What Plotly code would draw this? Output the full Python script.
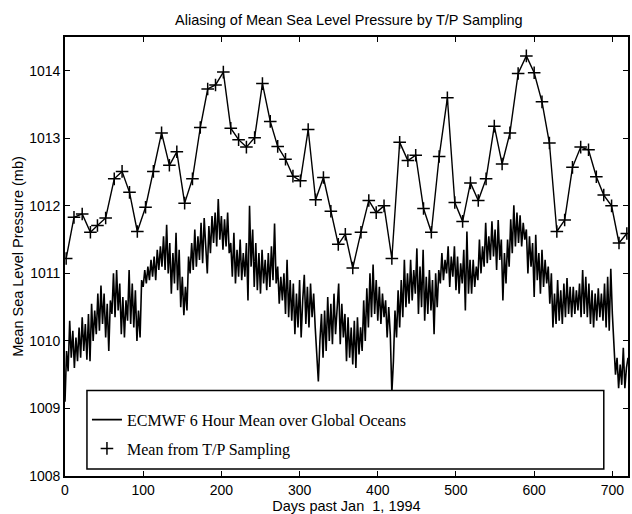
import plotly.graph_objects as go

# ECMWF 6-hour global-ocean mean sea level pressure, sampled every 2 days (mb)
ecmwf_day = list(range(0, 721, 2))
ecmwf_mb = [
    1009.10, 1009.85, 1009.55, 1010.30, 1009.75, 1010.15, 1009.60, 1010.05, 1009.70, 1010.20,
    1009.75, 1010.35, 1009.85, 1010.25, 1009.72, 1010.40, 1009.70, 1010.55, 1010.00, 1010.45,
    1010.10, 1010.70, 1010.15, 1010.82, 1010.25, 1010.70, 1010.05, 1010.55, 1009.85, 1010.60,
    1010.40, 1011.00, 1010.35, 1011.05, 1010.45, 1010.85, 1010.10, 1010.65, 1010.05, 1010.60,
    1010.30, 1011.05, 1010.25, 1010.85, 1010.20, 1010.75, 1010.00, 1010.45, 1010.05, 1010.90,
    1010.80, 1011.05, 1010.85, 1011.10, 1010.90, 1011.20, 1010.95, 1011.25, 1010.90, 1011.35,
    1011.05, 1011.40, 1011.10, 1011.55, 1011.05, 1011.72, 1011.00, 1011.45, 1010.70, 1011.30,
    1010.85, 1011.60, 1010.75, 1011.35, 1010.50, 1010.95, 1010.38, 1010.80, 1010.45, 1011.25,
    1011.00, 1011.45, 1011.05, 1011.65, 1011.10, 1011.55, 1011.20, 1011.75, 1011.15, 1011.82,
    1011.40, 1011.00, 1011.70, 1011.30, 1011.85, 1011.45, 1011.90, 1011.40, 1012.10, 1011.50,
    1011.85, 1011.35, 1011.80, 1011.40, 1011.90, 1011.30, 1011.45, 1010.95, 1011.60, 1010.85,
    1011.35, 1010.95, 1011.50, 1010.90, 1011.30, 1010.95, 1011.45, 1010.60, 1012.00, 1011.10,
    1011.65, 1010.80, 1011.45, 1010.75, 1011.30, 1010.70, 1011.35, 1010.85, 1011.20, 1010.75,
    1011.30, 1010.80, 1011.40, 1010.90, 1011.74, 1010.85, 1011.10, 1010.55, 1010.95, 1010.60,
    1011.00, 1010.40, 1011.20, 1010.35, 1010.90, 1010.30, 1010.85, 1010.10, 1010.70, 1010.20,
    1010.90, 1010.05, 1010.60, 1010.98, 1010.25, 1010.80, 1010.20, 1010.85, 1010.35, 1010.70,
    1010.20, 1009.70, 1009.40, 1010.00, 1010.40, 1009.75, 1010.45, 1009.85, 1010.65, 1010.00,
    1010.55, 1009.95, 1010.70, 1010.10, 1010.45, 1010.85, 1009.95, 1010.55, 1010.05, 1010.40,
    1009.70, 1010.35, 1009.75, 1010.20, 1009.65, 1010.30, 1009.60, 1010.35, 1009.80, 1010.20,
    1009.85, 1010.60, 1010.00, 1010.78, 1010.20, 1011.00, 1010.35, 1011.13, 1010.40, 1010.90,
    1010.30, 1010.80, 1010.25, 1010.70, 1010.35, 1010.60, 1010.05, 1010.50, 1010.10, 1009.23,
    1009.70, 1010.45, 1010.05, 1010.75, 1010.20, 1010.90, 1010.35, 1011.20, 1010.50, 1011.00,
    1010.55, 1011.20, 1010.60, 1011.05, 1010.70, 1011.37, 1010.40, 1011.10, 1010.50, 1011.35,
    1010.30, 1010.95, 1010.40, 1011.05, 1010.45, 1010.90, 1010.10, 1011.00, 1010.50, 1011.05,
    1010.85, 1011.30, 1010.90, 1011.20, 1011.00, 1011.40, 1010.80, 1011.25, 1010.95, 1011.40,
    1010.75, 1011.25, 1010.70, 1011.15, 1010.85, 1011.35, 1010.45, 1011.62, 1010.70, 1011.20,
    1010.70, 1011.20, 1010.80, 1011.10, 1010.90, 1011.50, 1011.00, 1011.40, 1011.10, 1011.75,
    1011.15, 1011.55, 1011.20, 1011.77, 1011.25, 1011.65, 1011.05, 1011.79, 1011.20, 1011.50,
    1010.60, 1011.30, 1010.85, 1011.50, 1011.10, 1011.80, 1011.30, 1012.01, 1011.40, 1011.90,
    1011.45, 1011.86, 1011.40, 1011.75, 1011.50, 1011.65, 1011.00, 1011.55, 1011.10, 1011.45,
    1010.65, 1011.57, 1010.90, 1011.30, 1010.70, 1011.35, 1010.80, 1011.20, 1010.85, 1011.10,
    1010.55, 1011.00, 1010.20, 1010.70, 1010.25, 1010.90, 1010.30, 1010.75, 1010.25, 1010.85,
    1010.35, 1010.93, 1010.40, 1010.80, 1010.35, 1010.80, 1010.40, 1010.75, 1010.45, 1010.85,
    1010.35, 1011.05, 1010.40, 1010.95, 1010.35, 1010.85, 1010.25, 1010.75, 1010.20, 1010.70,
    1010.30, 1010.78, 1010.35, 1010.70, 1010.30, 1010.85, 1010.20, 1010.95, 1010.15, 1011.07,
    1010.40, 1009.85, 1009.50, 1009.75, 1009.30, 1009.65, 1009.35, 1009.90, 1009.30, 1009.60,
    1009.75,
]

# Mean pressure as seen through the T/P repeat-cycle sampling (mb)
tp_day = [
    1.5, 11.5, 22, 32.5, 41.5, 52, 63, 73, 82.5, 92.5,
    103, 113, 123.5, 133.5, 143, 153, 163, 173, 182.5, 192.5,
    202.5, 212, 222, 232, 242.5, 252.5, 262.5, 272, 282, 291.5,
    301, 311, 320.5, 330.5, 340, 349.5, 358.5, 368, 378.5, 388.5,
    398, 408, 418, 428, 438.5, 448.5, 458.5, 468.5, 478.5, 489,
    498.5, 508.5, 518.5, 528.5, 538.5, 549, 559, 569, 579.5, 590,
    600, 610, 619.5, 629, 639, 649, 659.5, 669.5, 679.5, 689,
    699, 708.5, 718.5,
]
tp_mb = [
    1011.22, 1011.83, 1011.88, 1011.61, 1011.71, 1011.82, 1012.40, 1012.51, 1012.20, 1011.62,
    1011.98, 1012.51, 1013.08, 1012.60, 1012.80, 1012.04, 1012.40, 1013.16, 1013.73, 1013.79,
    1013.98, 1013.15, 1012.98, 1012.87, 1013.01, 1013.81, 1013.25, 1012.88, 1012.69, 1012.44,
    1012.37, 1013.13, 1012.09, 1012.42, 1011.92, 1011.43, 1011.58, 1011.08, 1011.61, 1012.08,
    1011.90, 1012.00, 1011.22, 1012.94, 1012.67, 1012.75, 1011.96, 1011.61, 1012.73, 1013.60,
    1012.05, 1011.77, 1012.34, 1012.08, 1012.40, 1013.18, 1012.62, 1013.08, 1013.96, 1014.22,
    1013.97, 1013.54, 1012.93, 1011.62, 1011.79, 1012.57, 1012.87, 1012.83, 1012.43, 1012.16,
    1012.00, 1011.45, 1011.59,
]

x_ticks = [0, 100, 200, 300, 400, 500, 600, 700]
y_ticks = [1008, 1009, 1010, 1011, 1012, 1013, 1014]

SANS = "Liberation Sans, Arial, Helvetica, sans-serif"
SERIF = "Liberation Serif, Times New Roman, serif"

fig = go.Figure()

fig.add_trace(go.Scatter(
    x=ecmwf_day, y=ecmwf_mb, mode="lines",
    line=dict(color="black", width=1.6),
    name="ECMWF 6 Hour Mean over Global Oceans",
    legendgroup="ecmwf",
))
fig.add_trace(go.Scatter(
    x=tp_day, y=tp_mb, mode="lines",
    line=dict(color="black", width=1.4),
    showlegend=False, hoverinfo="skip",
))
fig.add_trace(go.Scatter(
    x=tp_day, y=tp_mb, mode="markers",
    marker=dict(symbol="cross-thin", size=9, line=dict(color="black", width=1.5)),
    name="Mean from T/P Sampling",
    legendgroup="tp",
))

# framed legend panel inside the axes
fig.add_shape(
    type="rect", xref="paper", yref="paper",
    x0=0.039, x1=0.957, y0=0.016, y1=0.195,
    line=dict(color="black", width=1.5), fillcolor="white", layer="above",
)

axis_common = dict(
    showline=True, linecolor="black", linewidth=1.6, mirror="ticks",
    ticks="inside", ticklen=5, tickwidth=1.2, tickcolor="black",
    showgrid=False, zeroline=False,
    tickfont=dict(family=SANS, size=14, color="black"),
)

fig.update_layout(
    width=632, height=514,
    margin=dict(l=65, r=2, t=37, b=36),
    paper_bgcolor="white", plot_bgcolor="white",
    title=dict(
        text="Aliasing of Mean Sea Level Pressure by T/P Sampling",
        font=dict(family=SANS, size=14.5, color="black"),
        x=0.552, xanchor="center", y=0.961, yanchor="middle",
    ),
    xaxis=dict(
        range=[0, 720], tickvals=x_ticks,
        title=dict(text="Days past Jan\u00a0 1, 1994", standoff=4,
                   font=dict(family=SANS, size=14.5, color="black")),
        **axis_common,
    ),
    yaxis=dict(
        range=[1008, 1014.5], tickvals=y_ticks,
        title=dict(text="Mean Sea Level Pressure (mb)", standoff=2,
                   font=dict(family=SANS, size=14.5, color="black")),
        **axis_common,
    ),
    legend=dict(
        x=0.039, y=0.167, xanchor="left", yanchor="top",
        bgcolor="rgba(0,0,0,0)", borderwidth=0,
        font=dict(family=SERIF, size=16, color="black"),
        tracegroupgap=5,
    ),
    showlegend=True,
)

fig.write_html("out.html")
